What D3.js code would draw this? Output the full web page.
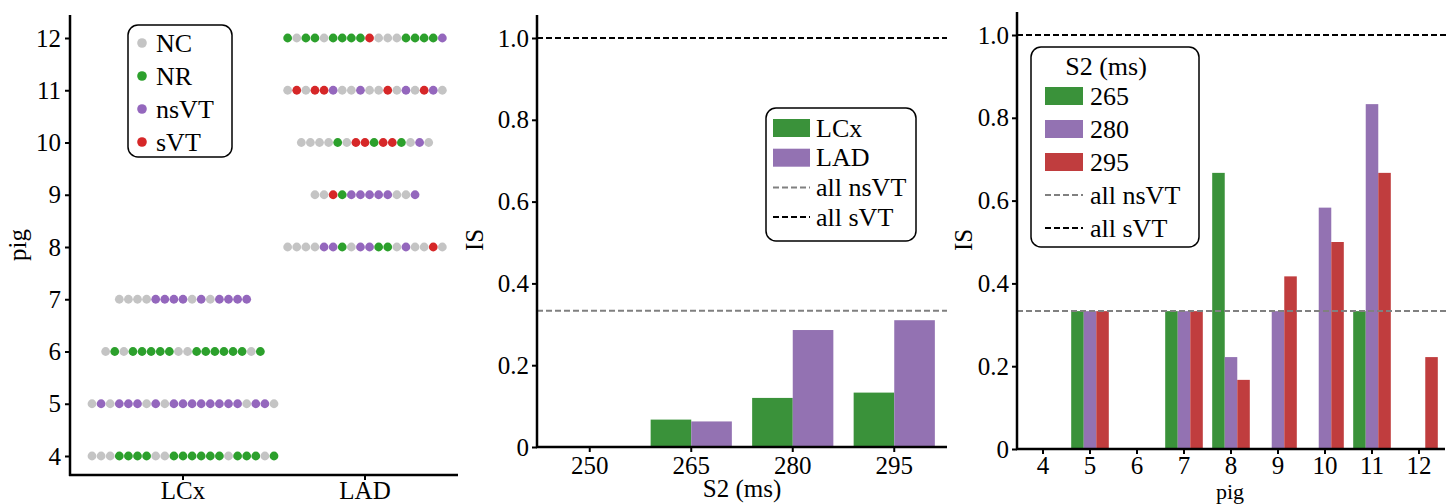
<!DOCTYPE html>
<html>
<head>
<meta charset="utf-8">
<script src="https://cdn.jsdelivr.net/npm/d3@7"></script>
<style>
  html, body { margin: 0; padding: 0; background: #fff; }
  svg { display: block; font-family: "Liberation Serif", "Times New Roman", serif; }
</style>
</head>
<body>
<svg id="chart" width="1448" height="504"></svg>
<script>
// ---- data ----
const outcomeNames = ["NC", "NR", "nsVT", "sVT"];
const outcomeColors = ["#c4c4c4", "#2ca02c", "#9467bd", "#d62728"];

// per-pig sequence of stimulation outcomes (N=NC, G=NR, P=nsVT, R=sVT)
const lcxPigs = [4, 5, 6, 7];
const lcxRuns = [
  "NNNGGGGNNGGGGGGNGGGNG",
  "NPNPPPNPNPPPPPPPPNPPN",
  "NGNGGGGGNNGGGGGGNG",
  "NNNNPPPPNPNPPPP"
];
const ladPigs = [8, 9, 10, 11, 12];
const ladRuns = [
  "NNNNPPGNPPGGNPNNRN",
  "NNRGPPPPPNNP",
  "NNNNGNRRGRRGNPN",
  "NRNRRPNNPNNRNPNRPN",
  "GNGGNGGGGRNNNGGGGP"
];
const pigTicks = [4, 5, 6, 7, 8, 9, 10, 11, 12];

// inducibility score by S2 interval and territory
const s2Values = [250, 265, 280, 295];
const isLCx = [0, 0.067, 0.12, 0.133];
const isLAD = [0, 0.0625, 0.286, 0.31];

// inducibility score per pig and S2 interval
const pigList = [4, 5, 6, 7, 8, 9, 10, 11, 12];
const is265 = [0, 0.333, 0, 0.333, 0.667, 0, 0, 0.333, 0];
const is280 = [0, 0.333, 0, 0.333, 0.222, 0.333, 0.583, 0.833, 0];
const is295 = [0, 0.333, 0, 0.333, 0.167, 0.417, 0.5, 0.667, 0.222];

const refNsVT = 1 / 3;
const refSVT = 1.0;
const isTicks = [0, 0.2, 0.4, 0.6, 0.8, 1.0];

// ---- styles ----
const FS = 25;
const LFS = 26;
const barGreen = "#3a923a", barPurple = "#9372b2", barRed = "#c03d3e";
const codeIndex = { N: 0, G: 1, P: 2, R: 3 };

const svg = d3.select("#chart");

function styleAxis(g) {
  g.selectAll(".domain").remove();
  g.selectAll(".tick line").attr("stroke", "#000").attr("stroke-width", 2);
  g.selectAll(".tick text").attr("fill", "#000").style("font-size", FS + "px")
    .style("font-family", "Liberation Serif, serif");
}
function axisLines(x0, x1, yTop, yBase) {
  svg.append("line").attr("x1", x0).attr("x2", x0).attr("y1", yTop).attr("y2", yBase + 1)
    .attr("stroke", "#000").attr("stroke-width", 2.5);
  svg.append("line").attr("x1", x0 - 1).attr("x2", x1).attr("y1", yBase).attr("y2", yBase)
    .attr("stroke", "#000").attr("stroke-width", 2.5);
}
const isFmt = d => d === 0 ? "0" : d3.format(".1f")(d);

// ================= panel A: outcome strips =================
{
  const left = 70, right = 458, top = 15, base = 475;
  const y = d3.scaleLinear().domain([4, 12]).range([456, 38]);
  const x = d3.scaleBand().domain(["LCx", "LAD"]).range([92, 456]);
  const dotStep = 9.1, r = 4.4;

  const gy = svg.append("g").attr("transform", `translate(${left},0)`)
    .call(d3.axisLeft(y).tickValues(pigTicks).tickFormat(d3.format("d")).tickSize(5).tickPadding(4));
  styleAxis(gy);
  const gx = svg.append("g").attr("transform", `translate(0,${base})`)
    .call(d3.axisBottom(x).tickSize(5).tickPadding(2));
  styleAxis(gx);
  gx.selectAll(".tick text").attr("dy", "0.68em");
  axisLines(left, right, top, base);

  const rows = [];
  lcxPigs.forEach((p, i) => rows.push({ terr: "LCx", pig: p, seq: lcxRuns[i] }));
  ladPigs.forEach((p, i) => rows.push({ terr: "LAD", pig: p, seq: ladRuns[i] }));
  rows.forEach(row => {
    const cx = x(row.terr) + x.bandwidth() / 2;
    const n = row.seq.length;
    svg.append("g").selectAll("circle").data(row.seq.split("")).join("circle")
      .attr("cx", (c, i) => cx + (i - (n - 1) / 2) * dotStep)
      .attr("cy", y(row.pig))
      .attr("r", r)
      .attr("fill", c => outcomeColors[codeIndex[c]]);
  });

  svg.append("text").attr("transform", `translate(26,245) rotate(-90)`)
    .attr("text-anchor", "middle").style("font-size", FS + "px").text("pig");

  // legend
  const lg = svg.append("g");
  lg.append("rect").attr("x", 128).attr("y", 25).attr("width", 104).attr("height", 132)
    .attr("rx", 10).attr("fill", "#fff").attr("stroke", "#000").attr("stroke-width", 1.5);
  outcomeNames.forEach((nm, i) => {
    const yy = 43 + i * 33;
    lg.append("circle").attr("cx", 142).attr("cy", yy).attr("r", 4.8).attr("fill", outcomeColors[i]);
    lg.append("text").attr("x", 156).attr("y", yy + 8.5).style("font-size", LFS + "px").text(nm);
  });
}

// ================= panel B: IS by S2 =================
{
  const left = 537, right = 947, top = 15, base = 447;
  const y = d3.scaleLinear().domain([0, 1]).range([base, 38]);
  const x = d3.scaleBand().domain(s2Values).range([539, 945]);
  const inner = d3.scaleBand().domain(["LCx", "LAD"])
    .range([x.bandwidth() * 0.1, x.bandwidth() * 0.9]);

  const gy = svg.append("g").attr("transform", `translate(${left},0)`)
    .call(d3.axisLeft(y).tickValues(isTicks).tickFormat(isFmt).tickSize(5).tickPadding(3));
  styleAxis(gy);
  const gx = svg.append("g").attr("transform", `translate(0,${base})`)
    .call(d3.axisBottom(x).tickSize(5).tickPadding(4));
  styleAxis(gx);

  const series = [{ key: "LCx", vals: isLCx, color: barGreen }, { key: "LAD", vals: isLAD, color: barPurple }];
  series.forEach(s => {
    svg.append("g").selectAll("rect").data(s2Values).join("rect")
      .attr("x", (d) => x(d) + inner(s.key))
      .attr("width", inner.bandwidth())
      .attr("y", (d, i) => y(s.vals[i]))
      .attr("height", (d, i) => base - y(s.vals[i]))
      .attr("fill", s.color);
  });

  svg.append("line").attr("x1", left).attr("x2", right).attr("y1", y(refNsVT)).attr("y2", y(refNsVT))
    .attr("stroke", "#808080").attr("stroke-width", 2).attr("stroke-dasharray", "6,3");
  svg.append("line").attr("x1", left).attr("x2", right).attr("y1", y(refSVT)).attr("y2", y(refSVT))
    .attr("stroke", "#000").attr("stroke-width", 2).attr("stroke-dasharray", "6,3");
  axisLines(left, right, top, base);

  svg.append("text").attr("transform", `translate(483,240) rotate(-90)`)
    .attr("text-anchor", "middle").style("font-size", FS + "px").text("IS");
  svg.append("text").attr("x", 742).attr("y", 497).attr("text-anchor", "middle")
    .style("font-size", FS + "px").text("S2 (ms)");

  // legend
  const lg = svg.append("g");
  lg.append("rect").attr("x", 766).attr("y", 108).attr("width", 150).attr("height", 133)
    .attr("rx", 10).attr("fill", "#fff").attr("stroke", "#000").attr("stroke-width", 1.5);
  const items = [
    { t: "LCx", c: barGreen, kind: "patch" },
    { t: "LAD", c: barPurple, kind: "patch" },
    { t: "all nsVT", c: "#808080", kind: "line" },
    { t: "all sVT", c: "#000", kind: "line" }
  ];
  items.forEach((it, i) => {
    const yy = 128 + i * 29.7;
    if (it.kind === "patch") {
      lg.append("rect").attr("x", 773).attr("y", yy - 9).attr("width", 37).attr("height", 18).attr("fill", it.c);
    } else {
      lg.append("line").attr("x1", 773).attr("x2", 810).attr("y1", yy).attr("y2", yy)
        .attr("stroke", it.c).attr("stroke-width", 2).attr("stroke-dasharray", "6,3");
    }
    lg.append("text").attr("x", 816).attr("y", yy + 8.5).style("font-size", LFS + "px").text(it.t);
  });
}

// ================= panel C: IS per pig =================
{
  const left = 1017, right = 1445, top = 12, base = 449;
  const y = d3.scaleLinear().domain([0, 1]).range([base, 35]);
  const x = d3.scaleBand().domain(pigList).range([1019.5, 1442.5]);
  const inner = d3.scaleBand().domain(["265", "280", "295"])
    .range([x.bandwidth() * 0.1, x.bandwidth() * 0.9]);

  const gy = svg.append("g").attr("transform", `translate(${left},0)`)
    .call(d3.axisLeft(y).tickValues(isTicks).tickFormat(isFmt).tickSize(5).tickPadding(3));
  styleAxis(gy);
  const gx = svg.append("g").attr("transform", `translate(0,${base})`)
    .call(d3.axisBottom(x).tickSize(5).tickPadding(2));
  styleAxis(gx);

  const series = [
    { key: "265", vals: is265, color: barGreen },
    { key: "280", vals: is280, color: barPurple },
    { key: "295", vals: is295, color: barRed }
  ];
  series.forEach(s => {
    svg.append("g").selectAll("rect").data(pigList).join("rect")
      .attr("x", d => x(d) + inner(s.key))
      .attr("width", inner.bandwidth())
      .attr("y", (d, i) => y(s.vals[i]))
      .attr("height", (d, i) => base - y(s.vals[i]))
      .attr("fill", s.color);
  });

  svg.append("line").attr("x1", left).attr("x2", 1448).attr("y1", y(refNsVT)).attr("y2", y(refNsVT))
    .attr("stroke", "#808080").attr("stroke-width", 2).attr("stroke-dasharray", "6,3");
  svg.append("line").attr("x1", left).attr("x2", 1448).attr("y1", y(refSVT)).attr("y2", y(refSVT))
    .attr("stroke", "#000").attr("stroke-width", 2).attr("stroke-dasharray", "6,3");
  axisLines(left, right, top, base);

  svg.append("text").attr("transform", `translate(972,240) rotate(-90)`)
    .attr("text-anchor", "middle").style("font-size", FS + "px").text("IS");
  svg.append("text").attr("x", 1230).attr("y", 499).attr("text-anchor", "middle")
    .style("font-size", "22px").text("pig");

  // legend
  const lg = svg.append("g");
  lg.append("rect").attr("x", 1031).attr("y", 47).attr("width", 168).attr("height", 200)
    .attr("rx", 10).attr("fill", "#fff").attr("stroke", "#000").attr("stroke-width", 1.5);
  lg.append("text").attr("x", 1106).attr("y", 75).attr("text-anchor", "middle")
    .style("font-size", LFS + "px").text("S2 (ms)");
  const items = [
    { t: "265", c: barGreen, kind: "patch" },
    { t: "280", c: barPurple, kind: "patch" },
    { t: "295", c: barRed, kind: "patch" },
    { t: "all nsVT", c: "#808080", kind: "line" },
    { t: "all sVT", c: "#000", kind: "line" }
  ];
  items.forEach((it, i) => {
    const yy = 96 + i * 33;
    if (it.kind === "patch") {
      lg.append("rect").attr("x", 1045).attr("y", yy - 9).attr("width", 38).attr("height", 18).attr("fill", it.c);
    } else {
      lg.append("line").attr("x1", 1045).attr("x2", 1083).attr("y1", yy).attr("y2", yy)
        .attr("stroke", it.c).attr("stroke-width", 2).attr("stroke-dasharray", "6,3");
    }
    lg.append("text").attr("x", 1090).attr("y", yy + 8.5).style("font-size", LFS + "px").text(it.t);
  });
}
</script>
</body>
</html>
